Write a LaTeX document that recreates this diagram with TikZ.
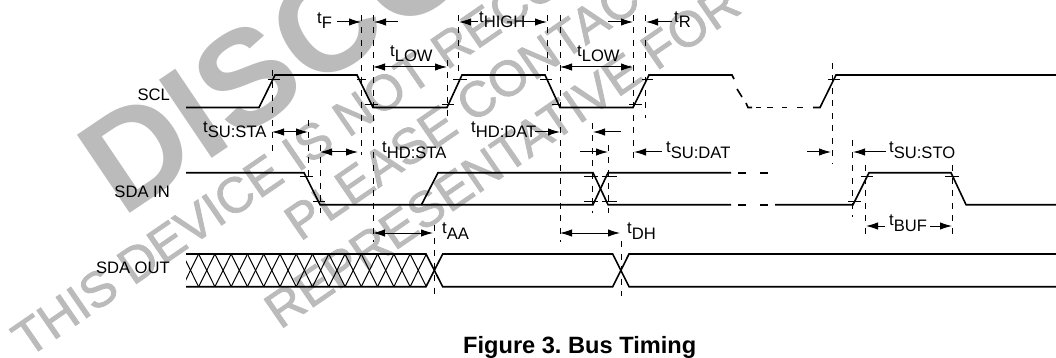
\documentclass[tikz,border=0pt]{standalone}
\usepackage{fontspec}
\setmainfont{Liberation Sans}
\newfontfamily\wmfont[FakeBold=1.6]{Liberation Sans}
\usetikzlibrary{arrows.meta}
\definecolor{wm}{HTML}{BBBBBB}
\newcommand\tm[1]{\raisebox{5.5pt}{t}#1}
\tikzset{
  wave/.style={line width=1.6pt,black,line join=miter},
  guide/.style={line width=1pt,black,dash pattern=on 6pt off 6.5pt},
  tick/.style={line width=0.8pt,black},
  dim/.style={line width=1pt,black},
  both/.style={dim,{Latex[length=12pt,width=7.5pt]}-{Latex[length=12pt,width=7.5pt]}},
  single/.style={dim,-{Latex[length=12pt,width=7.5pt]}},
  lab/.style={inner sep=0pt,font=\fontsize{16.6}{18}\selectfont},
  sig/.style={lab,anchor=east},
  wmbig/.style={inner sep=0pt,anchor=base west,rotate=34,text=wm,font=\fontsize{137}{140}\selectfont\bfseries},
  wmsmall/.style={inner sep=0pt,anchor=base west,rotate=34.5,text=wm,font=\fontsize{50}{52}\selectfont\wmfont},
}
\frenchspacing
\begin{document}
\begin{tikzpicture}[x=1pt,y=-1pt]
\useasboundingbox (0,0) rectangle (1056,358);
\begin{scope}
\clip (0,0) rectangle (1056,358);
\node[wmbig] (w1) at (122,219) {DISCONTINUED};
\node[wmsmall] (w2) at (27.6,358.5) {THIS DEVICE IS NOT RECOMMENDED};
\node[wmsmall] (w3) at (300,242) {PLEASE CONTACT};
\node[wmsmall] (w4) at (280,330) {REPRESENTATIVE FOR};
\end{scope}
% guides
\foreach \x/\a/\b in {272/70/156, 308.5/120/178, 320/145/213, 361/15/155, 373/15/242, 447/60/122, 458.5/15/76, 547.5/15/76, 560/15/242, 633/15/160, 645.5/15/118, 592.7/123/213, 608/145/213, 832/63/164, 852.5/140/217, 865.7/165/235, 952.5/165/235, 434.5/225/296, 621/241/296}
  \draw[guide] (\x,\a) -- (\x,\b);
% ticks
\foreach \y/\a/\b in {79/268/280, 79/357/366, 104/365/378, 104/442/454, 79/453/467, 79/540/552, 104/552/561, 104/629/642, 79/642/653, 79/828/840, 176.5/300/313, 201/313/325, 176.5/584/598, 176.5/602/617, 201.5/584/598, 201.5/602/617, 201.7/848/861, 176.7/861/873, 176.7/945/959}
  \draw[tick] (\a,\y) -- (\b,\y);
% SCL
\draw[wave] (186,107.5) -- (259,107.5) -- (275,75) -- (357,75) -- (373,107.5) -- (447,107.5) -- (462,75) -- (545,75) -- (560,107.5) -- (633,107.5) -- (649,75) -- (732,75) -- (734,79);
\draw[wave] (737,89) -- (742,97);
\draw[wave] (746,103) -- (748,107.5) -- (752,107.5);
\foreach \a/\b in {756/761,767/773,782/787,797/803} \draw[wave] (\a,107.5) -- (\b,107.5);
\draw[wave] (813,107.5) -- (820,107.5) -- (836,75) -- (1056,75);
% SDA IN
\draw[wave] (186,172.7) -- (304,172.7) -- (320,204.7) -- (421.5,204.7) -- (438,172.7) -- (593,172.7) -- (608,204.7) -- (731,204.7);
\draw[wave] (421.5,204.7) -- (593,204.7) -- (608,172.7) -- (731,172.7);
\foreach \y in {172.7,204.7} \foreach \a/\b in {738/746,760/768} \draw[wave] (\a,\y) -- (\b,\y);
\draw[wave] (775,204.7) -- (853,204.7) -- (869,172.7) -- (951,172.7) -- (966,204.7) -- (1056,204.7);
% SDA OUT
\begin{scope}
\clip (186,250) rectangle (440,290);
\foreach \k in {0,...,14} {
  \pgfmathsetmacro\c{190.5+16.267*\k}
  \draw[line width=1pt] (\c-8.13,254) -- (\c+8.13,286.7);
  \draw[line width=1pt] (\c-8.13,286.7) -- (\c+8.13,254);
}
\end{scope}
\draw[wave] (186,254) -- (426,254) -- (442.7,286.7) -- (612.7,286.7) -- (629,254) -- (1056,254);
\draw[wave] (186,286.7) -- (426,286.7) -- (442.7,254) -- (612.7,254) -- (629,286.7) -- (1056,286.7);
% dimension arrows
\draw[single] (337,22) -- (361,22);
\draw[single] (398,22) -- (374,22);
\draw[both] (373,67) -- (447,67);
\draw[both] (272,132) -- (308,132);
\draw[both] (320,152) -- (358,152);
\draw[single] (524,22) -- (547,22);
\draw[single] (478,22) -- (459,22);
\draw[single] (608,22) -- (633,22);
\draw[single] (672,22) -- (646,22);
\draw[both] (560,67) -- (633,67);
\draw[single] (535,132) -- (560,132);
\draw[single] (621,132) -- (593,132);
\draw[single] (580,152) -- (608,152);
\draw[single] (662,152) -- (634,152);
\draw[single] (807,152) -- (831,152);
\draw[single] (886,152) -- (853,152);
\draw[single] (885,226) -- (866,226);
\draw[single] (930,226) -- (952,226);
\draw[both] (373,233) -- (433,233);
\draw[both] (560,233) -- (620,233);
% labels
\node[sig] (scl) at (170,95) {SCL};
\node[sig] (sdain) at (170,192) {SDA IN};
\node[sig] (sdaout) at (170,268) {SDA OUT};
\node[lab,anchor=base west] (tf) at (317,29) {\tm{F}};
\node[lab,anchor=base west] (tl1) at (390,62) {\tm{LOW}};
\node[lab,anchor=base west] (tl2) at (577,62) {\tm{LOW}};
\node[lab,anchor=base west] (tss) at (203,138) {\tm{SU:STA}};
\node[lab,anchor=base west] (ths) at (382,158) {\tm{HD:STA}};
\node[lab,anchor=base west] (thi) at (479,28) {\tm{HIGH}};
\node[lab,anchor=base west] (tr) at (674,28) {\tm{R}};
\node[lab,anchor=base west] (thd) at (471,138) {\tm{HD:DAT}};
\node[lab,anchor=base west] (tsd) at (666,158) {\tm{SU:DAT}};
\node[lab,anchor=base west] (tso) at (889,158) {\tm{SU:STO}};
\node[lab,anchor=base west] (tb) at (889,231) {\tm{BUF}};
\node[lab,anchor=base west] (taa) at (442,239) {\tm{AA}};
\node[lab,anchor=base west] (tdh) at (627,239) {\tm{DH}};
\node[inner sep=0pt,anchor=base west,font=\fontsize{23.6}{26}\selectfont\bfseries] (title) at (463,353) {Figure 3. Bus Timing};
\end{tikzpicture}
\end{document}
